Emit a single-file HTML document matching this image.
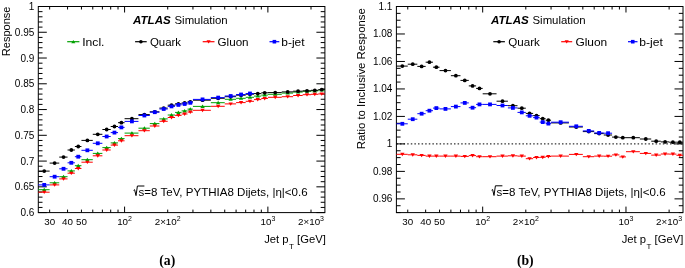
<!DOCTYPE html><html><head><meta charset="utf-8"><style>html,body{margin:0;padding:0;background:#fff;}svg{display:block;filter:blur(0.4px);}text{font-family:"Liberation Sans",sans-serif;}</style></head><body>
<svg width="685" height="268" viewBox="0 0 685 268">
<rect width="685" height="268" fill="#fff"/>
<rect x="38.30" y="6.50" width="286.60" height="206.10" fill="none" stroke="#000" stroke-width="1"/>
<path d="M124.58 212.60V206.60M124.58 6.50V12.50M267.88 212.60V206.60M267.88 6.50V12.50M49.65 212.60V209.60M49.65 6.50V9.50M67.55 212.60V209.60M67.55 6.50V9.50M81.44 212.60V209.60M81.44 6.50V9.50M92.78 212.60V209.60M92.78 6.50V9.50M102.38 212.60V209.60M102.38 6.50V9.50M110.69 212.60V209.60M110.69 6.50V9.50M118.02 212.60V209.60M118.02 6.50V9.50M167.71 212.60V209.60M167.71 6.50V9.50M192.95 212.60V209.60M192.95 6.50V9.50M210.85 212.60V209.60M210.85 6.50V9.50M224.74 212.60V209.60M224.74 6.50V9.50M236.08 212.60V209.60M236.08 6.50V9.50M245.68 212.60V209.60M245.68 6.50V9.50M253.99 212.60V209.60M253.99 6.50V9.50M261.32 212.60V209.60M261.32 6.50V9.50M311.01 212.60V209.60M311.01 6.50V9.50M38.30 6.50H46.80M324.90 6.50H316.40M38.30 32.26H46.80M324.90 32.26H316.40M38.30 58.02H46.80M324.90 58.02H316.40M38.30 83.79H46.80M324.90 83.79H316.40M38.30 109.55H46.80M324.90 109.55H316.40M38.30 135.31H46.80M324.90 135.31H316.40M38.30 161.08H46.80M324.90 161.08H316.40M38.30 186.84H46.80M324.90 186.84H316.40M38.30 212.60H46.80M324.90 212.60H316.40M38.30 207.45H42.50M324.90 207.45H320.70M38.30 202.29H42.50M324.90 202.29H320.70M38.30 197.14H42.50M324.90 197.14H320.70M38.30 191.99H42.50M324.90 191.99H320.70M38.30 181.69H42.50M324.90 181.69H320.70M38.30 176.53H42.50M324.90 176.53H320.70M38.30 171.38H42.50M324.90 171.38H320.70M38.30 166.23H42.50M324.90 166.23H320.70M38.30 155.92H42.50M324.90 155.92H320.70M38.30 150.77H42.50M324.90 150.77H320.70M38.30 145.62H42.50M324.90 145.62H320.70M38.30 140.46H42.50M324.90 140.46H320.70M38.30 130.16H42.50M324.90 130.16H320.70M38.30 125.01H42.50M324.90 125.01H320.70M38.30 119.85H42.50M324.90 119.85H320.70M38.30 114.70H42.50M324.90 114.70H320.70M38.30 104.40H42.50M324.90 104.40H320.70M38.30 99.25H42.50M324.90 99.25H320.70M38.30 94.09H42.50M324.90 94.09H320.70M38.30 88.94H42.50M324.90 88.94H320.70M38.30 78.64H42.50M324.90 78.64H320.70M38.30 73.48H42.50M324.90 73.48H320.70M38.30 68.33H42.50M324.90 68.33H320.70M38.30 63.18H42.50M324.90 63.18H320.70M38.30 52.87H42.50M324.90 52.87H320.70M38.30 47.72H42.50M324.90 47.72H320.70M38.30 42.57H42.50M324.90 42.57H320.70M38.30 37.42H42.50M324.90 37.42H320.70M38.30 27.11H42.50M324.90 27.11H320.70M38.30 21.96H42.50M324.90 21.96H320.70M38.30 16.81H42.50M324.90 16.81H320.70M38.30 11.65H42.50M324.90 11.65H320.70" stroke="#000" stroke-width="1" fill="none"/>
<text x="34.3" y="10.00" font-size="10" text-anchor="end">1</text>
<text x="34.3" y="35.76" font-size="10" text-anchor="end">0.95</text>
<text x="34.3" y="61.52" font-size="10" text-anchor="end">0.9</text>
<text x="34.3" y="87.29" font-size="10" text-anchor="end">0.85</text>
<text x="34.3" y="113.05" font-size="10" text-anchor="end">0.8</text>
<text x="34.3" y="138.81" font-size="10" text-anchor="end">0.75</text>
<text x="34.3" y="164.58" font-size="10" text-anchor="end">0.7</text>
<text x="34.3" y="190.34" font-size="10" text-anchor="end">0.65</text>
<text x="34.3" y="216.10" font-size="10" text-anchor="end">0.6</text>
<text x="49.65" y="225.4" font-size="9.8" text-anchor="middle">30</text>
<text x="67.55" y="225.4" font-size="9.8" text-anchor="middle">40</text>
<text x="81.44" y="225.4" font-size="9.8" text-anchor="middle">50</text>
<text x="124.58" y="225.4" font-size="9.8" text-anchor="middle">10<tspan dy="-4" font-size="7">2</tspan></text>
<text x="167.71" y="225.4" font-size="9.8" text-anchor="middle">2×10<tspan dy="-4" font-size="7">2</tspan></text>
<text x="267.88" y="225.4" font-size="9.8" text-anchor="middle">10<tspan dy="-4" font-size="7">3</tspan></text>
<text x="311.01" y="225.4" font-size="9.8" text-anchor="middle">2×10<tspan dy="-4" font-size="7">3</tspan></text>
<text transform="translate(9.7,6.6) rotate(-90)" font-size="11" text-anchor="end">Response</text>
<text x="325.80" y="242.6" font-size="11.25" text-anchor="end">Jet p<tspan dx="0.4" dy="6" font-size="8">T</tspan><tspan dy="-6"> [GeV]</tspan></text>
<text x="133" y="23.7" font-size="11.6" font-weight="bold" font-style="italic">ATLAS</text>
<text x="174.5" y="23.7" font-size="11.4">Simulation</text>
<path d="M67.2 41.7H79.4" stroke="#00a000" stroke-width="1.2"/>
<path d="M73.30 39.90L75.37 43.14L71.23 43.14Z" fill="#00a000"/>
<text x="82.2" y="45.5" font-size="11.2" textLength="22.3" lengthAdjust="spacingAndGlyphs">Incl.</text>
<path d="M135.1 41.7H146.7" stroke="#000" stroke-width="1.2"/>
<circle cx="140.90" cy="41.70" r="1.80" fill="#000"/>
<text x="149.9" y="45.5" font-size="11.2" textLength="31.2" lengthAdjust="spacingAndGlyphs">Quark</text>
<path d="M202.7 41.7H214.5" stroke="#ff0000" stroke-width="1.2"/>
<path d="M208.60 43.50L210.67 40.26L206.53 40.26Z" fill="#ff0000"/>
<text x="217.5" y="45.5" font-size="11.2" textLength="31.1" lengthAdjust="spacingAndGlyphs">Gluon</text>
<path d="M269.5 41.7H279.3" stroke="#0000ff" stroke-width="1.2"/>
<rect x="272.60" y="39.90" width="3.60" height="3.60" fill="#0000ff"/>
<text x="281.3" y="45.5" font-size="11.2" textLength="23.3" lengthAdjust="spacingAndGlyphs">b-jet</text>
<path d="M133.6 190.4L134.6 189.7L136.0 195.6L137.4 186.0H144.4" stroke="#000" stroke-width="1" fill="none" stroke-linejoin="miter"/>
<text x="138.6" y="195.6" font-size="11.4" textLength="169" lengthAdjust="spacingAndGlyphs">s=8 TeV, PYTHIA8 Dijets, |η|&lt;0.6</text>
<path d="M38.30 189.70H49.65M49.65 182.80H59.24M59.24 176.70H67.55M67.55 170.90H74.88M74.88 165.70H81.44M81.44 159.70H92.78M92.78 153.40H102.38M102.38 147.60H110.69M110.69 142.90H118.02M118.02 138.60H124.58M124.58 133.10H138.46M138.46 128.20H149.81M149.81 123.60H159.40M159.40 118.90H167.71M167.71 115.00H175.04M175.04 112.40H181.60M181.60 110.90H187.53M187.53 109.10H192.95M192.95 106.40H210.85M210.85 102.70H224.74M224.74 99.30H236.08M236.08 98.30H245.68M245.68 97.30H253.99M253.99 96.10H261.32M261.32 95.10H267.88M267.88 94.30H281.76M281.76 93.10H293.11M293.11 92.10H302.70M302.70 91.30H311.01M311.01 90.90H318.34M318.34 90.10H324.90" stroke="#00a000" stroke-width="1" fill="none"/>
<path d="M44.23 187.80L46.42 191.22L42.05 191.22Z" fill="#00a000"/>
<path d="M54.63 180.90L56.81 184.32L52.44 184.32Z" fill="#00a000"/>
<path d="M63.53 174.80L65.72 178.22L61.35 178.22Z" fill="#00a000"/>
<path d="M71.32 169.00L73.51 172.42L69.14 172.42Z" fill="#00a000"/>
<path d="M78.25 163.80L80.43 167.22L76.06 167.22Z" fill="#00a000"/>
<path d="M87.37 157.80L89.55 161.22L85.18 161.22Z" fill="#00a000"/>
<path d="M97.77 151.50L99.95 154.92L95.58 154.92Z" fill="#00a000"/>
<path d="M106.67 145.70L108.86 149.12L104.49 149.12Z" fill="#00a000"/>
<path d="M114.46 141.00L116.65 144.42L112.28 144.42Z" fill="#00a000"/>
<path d="M121.38 136.70L123.57 140.12L119.20 140.12Z" fill="#00a000"/>
<path d="M131.91 131.20L134.09 134.62L129.72 134.62Z" fill="#00a000"/>
<path d="M144.39 126.30L146.58 129.72L142.21 129.72Z" fill="#00a000"/>
<path d="M154.79 121.70L156.98 125.12L152.61 125.12Z" fill="#00a000"/>
<path d="M163.70 117.00L165.88 120.42L161.51 120.42Z" fill="#00a000"/>
<path d="M171.49 113.10L173.67 116.52L169.30 116.52Z" fill="#00a000"/>
<path d="M178.41 110.50L180.59 113.92L176.22 113.92Z" fill="#00a000"/>
<path d="M184.64 109.00L186.82 112.42L182.45 112.42Z" fill="#00a000"/>
<path d="M190.30 107.20L192.48 110.62L188.11 110.62Z" fill="#00a000"/>
<path d="M202.54 104.50L204.73 107.92L200.36 107.92Z" fill="#00a000"/>
<path d="M218.18 100.80L220.37 104.22L216.00 104.22Z" fill="#00a000"/>
<path d="M230.67 97.40L232.85 100.82L228.48 100.82Z" fill="#00a000"/>
<path d="M241.07 96.40L243.25 99.82L238.88 99.82Z" fill="#00a000"/>
<path d="M249.97 95.40L252.16 98.82L247.79 98.82Z" fill="#00a000"/>
<path d="M257.76 94.20L259.95 97.62L255.58 97.62Z" fill="#00a000"/>
<path d="M264.68 93.20L266.87 96.62L262.50 96.62Z" fill="#00a000"/>
<path d="M275.21 92.40L277.39 95.82L273.02 95.82Z" fill="#00a000"/>
<path d="M287.69 91.20L289.88 94.62L285.51 94.62Z" fill="#00a000"/>
<path d="M298.09 90.20L300.28 93.62L295.91 93.62Z" fill="#00a000"/>
<path d="M307.00 89.40L309.18 92.82L304.81 92.82Z" fill="#00a000"/>
<path d="M314.79 89.00L316.97 92.42L312.60 92.42Z" fill="#00a000"/>
<path d="M321.71 88.20L323.89 91.62L319.52 91.62Z" fill="#00a000"/>
<path d="M38.30 192.20H49.65M49.65 184.90H59.24M59.24 178.90H67.55M67.55 173.20H74.88M74.88 168.50H81.44M81.44 162.20H92.78M92.78 155.80H102.38M102.38 150.00H110.69M110.69 145.10H118.02M118.02 140.80H124.58M124.58 135.70H138.46M138.46 130.70H149.81M149.81 126.00H159.40M159.40 121.30H167.71M167.71 117.50H175.04M175.04 115.40H181.60M181.60 114.00H187.53M187.53 112.10H192.95M192.95 110.30H210.85M210.85 106.30H224.74M224.74 103.90H236.08M236.08 102.60H245.68M245.68 101.30H253.99M253.99 99.60H261.32M261.32 98.50H267.88M267.88 97.30H281.76M281.76 96.70H293.11M293.11 95.50H302.70M302.70 94.70H311.01M311.01 94.30H318.34M318.34 93.90H324.90" stroke="#ff0000" stroke-width="1" fill="none"/>
<path d="M44.23 194.10L46.42 190.68L42.05 190.68Z" fill="#ff0000"/>
<path d="M54.63 186.80L56.81 183.38L52.44 183.38Z" fill="#ff0000"/>
<path d="M63.53 180.80L65.72 177.38L61.35 177.38Z" fill="#ff0000"/>
<path d="M71.32 175.10L73.51 171.68L69.14 171.68Z" fill="#ff0000"/>
<path d="M78.25 170.40L80.43 166.98L76.06 166.98Z" fill="#ff0000"/>
<path d="M87.37 164.10L89.55 160.68L85.18 160.68Z" fill="#ff0000"/>
<path d="M97.77 157.70L99.95 154.28L95.58 154.28Z" fill="#ff0000"/>
<path d="M106.67 151.90L108.86 148.48L104.49 148.48Z" fill="#ff0000"/>
<path d="M114.46 147.00L116.65 143.58L112.28 143.58Z" fill="#ff0000"/>
<path d="M121.38 142.70L123.57 139.28L119.20 139.28Z" fill="#ff0000"/>
<path d="M131.91 137.60L134.09 134.18L129.72 134.18Z" fill="#ff0000"/>
<path d="M144.39 132.60L146.58 129.18L142.21 129.18Z" fill="#ff0000"/>
<path d="M154.79 127.90L156.98 124.48L152.61 124.48Z" fill="#ff0000"/>
<path d="M163.70 123.20L165.88 119.78L161.51 119.78Z" fill="#ff0000"/>
<path d="M171.49 119.40L173.67 115.98L169.30 115.98Z" fill="#ff0000"/>
<path d="M178.41 117.30L180.59 113.88L176.22 113.88Z" fill="#ff0000"/>
<path d="M184.64 115.90L186.82 112.48L182.45 112.48Z" fill="#ff0000"/>
<path d="M190.30 114.00L192.48 110.58L188.11 110.58Z" fill="#ff0000"/>
<path d="M202.54 112.20L204.73 108.78L200.36 108.78Z" fill="#ff0000"/>
<path d="M218.18 108.20L220.37 104.78L216.00 104.78Z" fill="#ff0000"/>
<path d="M230.67 105.80L232.85 102.38L228.48 102.38Z" fill="#ff0000"/>
<path d="M241.07 104.50L243.25 101.08L238.88 101.08Z" fill="#ff0000"/>
<path d="M249.97 103.20L252.16 99.78L247.79 99.78Z" fill="#ff0000"/>
<path d="M257.76 101.50L259.95 98.08L255.58 98.08Z" fill="#ff0000"/>
<path d="M264.68 100.40L266.87 96.98L262.50 96.98Z" fill="#ff0000"/>
<path d="M275.21 99.20L277.39 95.78L273.02 95.78Z" fill="#ff0000"/>
<path d="M287.69 98.60L289.88 95.18L285.51 95.18Z" fill="#ff0000"/>
<path d="M298.09 97.40L300.28 93.98L295.91 93.98Z" fill="#ff0000"/>
<path d="M307.00 96.60L309.18 93.18L304.81 93.18Z" fill="#ff0000"/>
<path d="M314.79 96.20L316.97 92.78L312.60 92.78Z" fill="#ff0000"/>
<path d="M321.71 95.80L323.89 92.38L319.52 92.38Z" fill="#ff0000"/>
<path d="M38.30 171.10H49.65M49.65 163.10H59.24M59.24 157.10H67.55M67.55 150.00H74.88M74.88 146.50H81.44M81.44 140.40H92.78M92.78 134.30H102.38M102.38 129.50H110.69M110.69 126.50H118.02M118.02 122.70H124.58M124.58 118.70H138.46M138.46 114.60H149.81M149.81 111.80H159.40M159.40 108.10H167.71M167.71 105.20H175.04M175.04 103.80H181.60M181.60 103.00H187.53M187.53 101.80H192.95M192.95 100.20H210.85M210.85 98.30H224.74M224.74 96.70H236.08M236.08 95.20H245.68M245.68 94.20H253.99M253.99 93.60H261.32M261.32 92.80H267.88M267.88 92.60H281.76M281.76 91.90H293.11M293.11 91.20H302.70M302.70 90.80H311.01M311.01 90.30H318.34M318.34 89.60H324.90" stroke="#000" stroke-width="1" fill="none"/>
<circle cx="44.23" cy="171.10" r="1.90" fill="#000"/>
<circle cx="54.63" cy="163.10" r="1.90" fill="#000"/>
<circle cx="63.53" cy="157.10" r="1.90" fill="#000"/>
<circle cx="71.32" cy="150.00" r="1.90" fill="#000"/>
<circle cx="78.25" cy="146.50" r="1.90" fill="#000"/>
<circle cx="87.37" cy="140.40" r="1.90" fill="#000"/>
<circle cx="97.77" cy="134.30" r="1.90" fill="#000"/>
<circle cx="106.67" cy="129.50" r="1.90" fill="#000"/>
<circle cx="114.46" cy="126.50" r="1.90" fill="#000"/>
<circle cx="121.38" cy="122.70" r="1.90" fill="#000"/>
<circle cx="131.91" cy="118.70" r="1.90" fill="#000"/>
<circle cx="144.39" cy="114.60" r="1.90" fill="#000"/>
<circle cx="154.79" cy="111.80" r="1.90" fill="#000"/>
<circle cx="163.70" cy="108.10" r="1.90" fill="#000"/>
<circle cx="171.49" cy="105.20" r="1.90" fill="#000"/>
<circle cx="178.41" cy="103.80" r="1.90" fill="#000"/>
<circle cx="184.64" cy="103.00" r="1.90" fill="#000"/>
<circle cx="190.30" cy="101.80" r="1.90" fill="#000"/>
<circle cx="202.54" cy="100.20" r="1.90" fill="#000"/>
<circle cx="218.18" cy="98.30" r="1.90" fill="#000"/>
<circle cx="230.67" cy="96.70" r="1.90" fill="#000"/>
<circle cx="241.07" cy="95.20" r="1.90" fill="#000"/>
<circle cx="249.97" cy="94.20" r="1.90" fill="#000"/>
<circle cx="257.76" cy="93.60" r="1.90" fill="#000"/>
<circle cx="264.68" cy="92.80" r="1.90" fill="#000"/>
<circle cx="275.21" cy="92.60" r="1.90" fill="#000"/>
<circle cx="287.69" cy="91.90" r="1.90" fill="#000"/>
<circle cx="298.09" cy="91.20" r="1.90" fill="#000"/>
<circle cx="307.00" cy="90.80" r="1.90" fill="#000"/>
<circle cx="314.79" cy="90.30" r="1.90" fill="#000"/>
<circle cx="321.71" cy="89.60" r="1.90" fill="#000"/>
<path d="M38.30 184.90H49.65M49.65 176.70H59.24M59.24 168.80H67.55M67.55 162.80H74.88M74.88 156.70H81.44M81.44 150.30H92.78M92.78 143.30H102.38M102.38 136.50H110.69M110.69 132.60H118.02M118.02 127.40H124.58M124.58 121.40H138.46M138.46 115.50H149.81M149.81 112.20H159.40M159.40 109.00H167.71M167.71 106.40H175.04M175.04 104.90H181.60M181.60 104.00H187.53M187.53 102.80H192.95M192.95 99.40H210.85M210.85 97.60H224.74M224.74 96.00H236.08M236.08 94.50H245.68M245.68 93.50H253.99" stroke="#0000ff" stroke-width="1" fill="none"/>
<rect x="42.33" y="183.00" width="3.80" height="3.80" fill="#0000ff"/>
<rect x="52.73" y="174.80" width="3.80" height="3.80" fill="#0000ff"/>
<rect x="61.63" y="166.90" width="3.80" height="3.80" fill="#0000ff"/>
<rect x="69.42" y="160.90" width="3.80" height="3.80" fill="#0000ff"/>
<rect x="76.35" y="154.80" width="3.80" height="3.80" fill="#0000ff"/>
<rect x="85.47" y="148.40" width="3.80" height="3.80" fill="#0000ff"/>
<rect x="95.87" y="141.40" width="3.80" height="3.80" fill="#0000ff"/>
<rect x="104.77" y="134.60" width="3.80" height="3.80" fill="#0000ff"/>
<rect x="112.56" y="130.70" width="3.80" height="3.80" fill="#0000ff"/>
<rect x="119.48" y="125.50" width="3.80" height="3.80" fill="#0000ff"/>
<rect x="130.01" y="119.50" width="3.80" height="3.80" fill="#0000ff"/>
<rect x="142.49" y="113.60" width="3.80" height="3.80" fill="#0000ff"/>
<rect x="152.89" y="110.30" width="3.80" height="3.80" fill="#0000ff"/>
<rect x="161.80" y="107.10" width="3.80" height="3.80" fill="#0000ff"/>
<rect x="169.59" y="104.50" width="3.80" height="3.80" fill="#0000ff"/>
<rect x="176.51" y="103.00" width="3.80" height="3.80" fill="#0000ff"/>
<rect x="182.74" y="102.10" width="3.80" height="3.80" fill="#0000ff"/>
<rect x="188.40" y="100.90" width="3.80" height="3.80" fill="#0000ff"/>
<rect x="200.64" y="97.50" width="3.80" height="3.80" fill="#0000ff"/>
<rect x="216.28" y="95.70" width="3.80" height="3.80" fill="#0000ff"/>
<rect x="228.77" y="94.10" width="3.80" height="3.80" fill="#0000ff"/>
<rect x="239.17" y="92.60" width="3.80" height="3.80" fill="#0000ff"/>
<rect x="248.07" y="91.60" width="3.80" height="3.80" fill="#0000ff"/>
<text x="167.3" y="264.6" font-size="13.7" font-weight="bold" text-anchor="middle" style="font-family:'Liberation Serif',serif">(a)</text>
<rect x="396.40" y="6.50" width="286.60" height="206.10" fill="none" stroke="#000" stroke-width="1"/>
<path d="M482.68 212.60V206.60M482.68 6.50V12.50M625.98 212.60V206.60M625.98 6.50V12.50M407.75 212.60V209.60M407.75 6.50V9.50M425.65 212.60V209.60M425.65 6.50V9.50M439.54 212.60V209.60M439.54 6.50V9.50M450.88 212.60V209.60M450.88 6.50V9.50M460.48 212.60V209.60M460.48 6.50V9.50M468.79 212.60V209.60M468.79 6.50V9.50M476.12 212.60V209.60M476.12 6.50V9.50M525.81 212.60V209.60M525.81 6.50V9.50M551.05 212.60V209.60M551.05 6.50V9.50M568.95 212.60V209.60M568.95 6.50V9.50M582.84 212.60V209.60M582.84 6.50V9.50M594.18 212.60V209.60M594.18 6.50V9.50M603.78 212.60V209.60M603.78 6.50V9.50M612.09 212.60V209.60M612.09 6.50V9.50M619.42 212.60V209.60M619.42 6.50V9.50M669.11 212.60V209.60M669.11 6.50V9.50M396.40 6.50H404.90M683.00 6.50H674.50M396.40 33.98H404.90M683.00 33.98H674.50M396.40 61.46H404.90M683.00 61.46H674.50M396.40 88.94H404.90M683.00 88.94H674.50M396.40 116.42H404.90M683.00 116.42H674.50M396.40 143.90H404.90M683.00 143.90H674.50M396.40 171.38H404.90M683.00 171.38H674.50M396.40 198.86H404.90M683.00 198.86H674.50M396.40 212.60H400.60M683.00 212.60H678.80M396.40 205.73H400.60M683.00 205.73H678.80M396.40 191.99H400.60M683.00 191.99H678.80M396.40 185.12H400.60M683.00 185.12H678.80M396.40 178.25H400.60M683.00 178.25H678.80M396.40 164.51H400.60M683.00 164.51H678.80M396.40 157.64H400.60M683.00 157.64H678.80M396.40 150.77H400.60M683.00 150.77H678.80M396.40 137.03H400.60M683.00 137.03H678.80M396.40 130.16H400.60M683.00 130.16H678.80M396.40 123.29H400.60M683.00 123.29H678.80M396.40 109.55H400.60M683.00 109.55H678.80M396.40 102.68H400.60M683.00 102.68H678.80M396.40 95.81H400.60M683.00 95.81H678.80M396.40 82.07H400.60M683.00 82.07H678.80M396.40 75.20H400.60M683.00 75.20H678.80M396.40 68.33H400.60M683.00 68.33H678.80M396.40 54.59H400.60M683.00 54.59H678.80M396.40 47.72H400.60M683.00 47.72H678.80M396.40 40.85H400.60M683.00 40.85H678.80M396.40 27.11H400.60M683.00 27.11H678.80M396.40 20.24H400.60M683.00 20.24H678.80M396.40 13.37H400.60M683.00 13.37H678.80" stroke="#000" stroke-width="1" fill="none"/>
<text x="392.4" y="10.00" font-size="10" text-anchor="end">1.1</text>
<text x="392.4" y="37.48" font-size="10" text-anchor="end">1.08</text>
<text x="392.4" y="64.96" font-size="10" text-anchor="end">1.06</text>
<text x="392.4" y="92.44" font-size="10" text-anchor="end">1.04</text>
<text x="392.4" y="119.92" font-size="10" text-anchor="end">1.02</text>
<text x="392.4" y="147.40" font-size="10" text-anchor="end">1</text>
<text x="392.4" y="174.88" font-size="10" text-anchor="end">0.98</text>
<text x="392.4" y="202.36" font-size="10" text-anchor="end">0.96</text>
<text x="407.75" y="225.4" font-size="9.8" text-anchor="middle">30</text>
<text x="425.65" y="225.4" font-size="9.8" text-anchor="middle">40</text>
<text x="439.54" y="225.4" font-size="9.8" text-anchor="middle">50</text>
<text x="482.68" y="225.4" font-size="9.8" text-anchor="middle">10<tspan dy="-4" font-size="7">2</tspan></text>
<text x="525.81" y="225.4" font-size="9.8" text-anchor="middle">2×10<tspan dy="-4" font-size="7">2</tspan></text>
<text x="625.98" y="225.4" font-size="9.8" text-anchor="middle">10<tspan dy="-4" font-size="7">3</tspan></text>
<text x="669.11" y="225.4" font-size="9.8" text-anchor="middle">2×10<tspan dy="-4" font-size="7">3</tspan></text>
<text transform="translate(365.2,8.1) rotate(-90)" font-size="11.4" text-anchor="end">Ratio to Inclusive Response</text>
<text x="683.30" y="242.6" font-size="11.25" text-anchor="end">Jet p<tspan dx="0.4" dy="6" font-size="8">T</tspan><tspan dy="-6"> [GeV]</tspan></text>
<text x="491" y="23.7" font-size="11.6" font-weight="bold" font-style="italic">ATLAS</text>
<text x="532.5" y="23.7" font-size="11.4">Simulation</text>
<path d="M493.3 41.7H504.9" stroke="#000" stroke-width="1.2"/>
<circle cx="499.10" cy="41.70" r="1.80" fill="#000"/>
<text x="508.2" y="45.5" font-size="11.2" textLength="31.7" lengthAdjust="spacingAndGlyphs">Quark</text>
<path d="M561.2 41.7H572.2" stroke="#ff0000" stroke-width="1.2"/>
<path d="M566.70 43.50L568.77 40.26L564.63 40.26Z" fill="#ff0000"/>
<text x="575.4" y="45.5" font-size="11.2" textLength="31.8" lengthAdjust="spacingAndGlyphs">Gluon</text>
<path d="M628 41.7H637.5" stroke="#0000ff" stroke-width="1.2"/>
<rect x="630.95" y="39.90" width="3.60" height="3.60" fill="#0000ff"/>
<text x="639.2" y="45.5" font-size="11.2" textLength="23.6" lengthAdjust="spacingAndGlyphs">b-jet</text>
<path d="M491.6 190.2L492.6 189.5L494.0 195.5L495.4 185.8H502.4" stroke="#000" stroke-width="1" fill="none" stroke-linejoin="miter"/>
<text x="496.6" y="195.5" font-size="11.4" textLength="169" lengthAdjust="spacingAndGlyphs">s=8 TeV, PYTHIA8 Dijets, |η|&lt;0.6</text>
<path d="M396.40 143.90H683.00" stroke="#000" stroke-width="1" stroke-dasharray="1.5 2.1"/>
<path d="M396.40 154.30H407.75M407.75 154.80H417.34M417.34 155.40H425.65M425.65 156.10H432.98M432.98 156.10H439.54M439.54 156.10H450.88M450.88 156.10H460.48M460.48 156.40H468.79M468.79 155.60H476.12M476.12 156.70H482.68M482.68 156.70H496.56M496.56 156.10H507.91M507.91 155.80H517.50M517.50 156.10H525.81M525.81 158.70H533.14M533.14 157.50H539.70M539.70 157.30H545.63M545.63 156.50H551.05M551.05 156.10H568.95M568.95 154.40H582.84M582.84 156.70H594.18M594.18 156.10H603.78M603.78 156.20H612.09M612.09 154.90H619.42M619.42 156.90H625.98M625.98 151.70H639.86M639.86 153.40H651.21M651.21 155.10H660.80M660.80 154.00H669.11M669.11 154.10H676.44M676.44 155.30H683.00" stroke="#ff0000" stroke-width="1" fill="none"/>
<path d="M402.33 156.20L404.52 152.78L400.15 152.78Z" fill="#ff0000"/>
<path d="M412.73 156.70L414.91 153.28L410.54 153.28Z" fill="#ff0000"/>
<path d="M421.63 157.30L423.82 153.88L419.45 153.88Z" fill="#ff0000"/>
<path d="M429.42 158.00L431.61 154.58L427.24 154.58Z" fill="#ff0000"/>
<path d="M436.35 158.00L438.53 154.58L434.16 154.58Z" fill="#ff0000"/>
<path d="M445.47 158.00L447.65 154.58L443.28 154.58Z" fill="#ff0000"/>
<path d="M455.87 158.00L458.05 154.58L453.68 154.58Z" fill="#ff0000"/>
<path d="M464.77 158.30L466.96 154.88L462.59 154.88Z" fill="#ff0000"/>
<path d="M472.56 157.50L474.75 154.08L470.38 154.08Z" fill="#ff0000"/>
<path d="M479.48 158.60L481.67 155.18L477.30 155.18Z" fill="#ff0000"/>
<path d="M490.01 158.60L492.19 155.18L487.82 155.18Z" fill="#ff0000"/>
<path d="M502.49 158.00L504.68 154.58L500.31 154.58Z" fill="#ff0000"/>
<path d="M512.89 157.70L515.08 154.28L510.71 154.28Z" fill="#ff0000"/>
<path d="M521.80 158.00L523.98 154.58L519.61 154.58Z" fill="#ff0000"/>
<path d="M529.59 160.60L531.77 157.18L527.40 157.18Z" fill="#ff0000"/>
<path d="M536.51 159.40L538.69 155.98L534.32 155.98Z" fill="#ff0000"/>
<path d="M542.74 159.20L544.92 155.78L540.55 155.78Z" fill="#ff0000"/>
<path d="M548.40 158.40L550.58 154.98L546.21 154.98Z" fill="#ff0000"/>
<path d="M560.64 158.00L562.83 154.58L558.46 154.58Z" fill="#ff0000"/>
<path d="M576.28 156.30L578.47 152.88L574.10 152.88Z" fill="#ff0000"/>
<path d="M588.77 158.60L590.95 155.18L586.58 155.18Z" fill="#ff0000"/>
<path d="M599.17 158.00L601.35 154.58L596.98 154.58Z" fill="#ff0000"/>
<path d="M608.07 158.10L610.26 154.68L605.89 154.68Z" fill="#ff0000"/>
<path d="M615.86 156.80L618.05 153.38L613.68 153.38Z" fill="#ff0000"/>
<path d="M622.78 158.80L624.97 155.38L620.60 155.38Z" fill="#ff0000"/>
<path d="M633.31 153.60L635.49 150.18L631.12 150.18Z" fill="#ff0000"/>
<path d="M645.79 155.30L647.98 151.88L643.61 151.88Z" fill="#ff0000"/>
<path d="M656.19 157.00L658.38 153.58L654.01 153.58Z" fill="#ff0000"/>
<path d="M665.10 155.90L667.28 152.48L662.91 152.48Z" fill="#ff0000"/>
<path d="M672.89 156.00L675.07 152.58L670.70 152.58Z" fill="#ff0000"/>
<path d="M679.81 157.20L681.99 153.78L677.62 153.78Z" fill="#ff0000"/>
<path d="M396.40 66.10H407.75M407.75 64.20H417.34M417.34 66.40H425.65M425.65 62.20H432.98M432.98 67.20H439.54M439.54 70.60H450.88M450.88 75.70H460.48M460.48 80.40H468.79M468.79 85.90H476.12M476.12 88.40H482.68M482.68 93.80H496.56M496.56 101.20H507.91M507.91 105.70H517.50M517.50 108.20H525.81M525.81 113.40H533.14M533.14 115.60H539.70M539.70 118.70H545.63M545.63 120.20H551.05M551.05 122.90H568.95M568.95 127.00H582.84M582.84 131.60H594.18M594.18 133.60H603.78M603.78 135.00H612.09M612.09 137.10H619.42M619.42 137.70H625.98M625.98 137.70H639.86M639.86 139.00H651.21M651.21 141.20H660.80M660.80 141.90H669.11M669.11 142.20H676.44M676.44 142.20H683.00" stroke="#000" stroke-width="1" fill="none"/>
<circle cx="402.33" cy="66.10" r="1.90" fill="#000"/>
<circle cx="412.73" cy="64.20" r="1.90" fill="#000"/>
<circle cx="421.63" cy="66.40" r="1.90" fill="#000"/>
<circle cx="429.42" cy="62.20" r="1.90" fill="#000"/>
<circle cx="436.35" cy="67.20" r="1.90" fill="#000"/>
<circle cx="445.47" cy="70.60" r="1.90" fill="#000"/>
<circle cx="455.87" cy="75.70" r="1.90" fill="#000"/>
<circle cx="464.77" cy="80.40" r="1.90" fill="#000"/>
<circle cx="472.56" cy="85.90" r="1.90" fill="#000"/>
<circle cx="479.48" cy="88.40" r="1.90" fill="#000"/>
<circle cx="490.01" cy="93.80" r="1.90" fill="#000"/>
<circle cx="502.49" cy="101.20" r="1.90" fill="#000"/>
<circle cx="512.89" cy="105.70" r="1.90" fill="#000"/>
<circle cx="521.80" cy="108.20" r="1.90" fill="#000"/>
<circle cx="529.59" cy="113.40" r="1.90" fill="#000"/>
<circle cx="536.51" cy="115.60" r="1.90" fill="#000"/>
<circle cx="542.74" cy="118.70" r="1.90" fill="#000"/>
<circle cx="548.40" cy="120.20" r="1.90" fill="#000"/>
<circle cx="560.64" cy="122.90" r="1.90" fill="#000"/>
<circle cx="576.28" cy="127.00" r="1.90" fill="#000"/>
<circle cx="588.77" cy="131.60" r="1.90" fill="#000"/>
<circle cx="599.17" cy="133.60" r="1.90" fill="#000"/>
<circle cx="608.07" cy="135.00" r="1.90" fill="#000"/>
<circle cx="615.86" cy="137.10" r="1.90" fill="#000"/>
<circle cx="622.78" cy="137.70" r="1.90" fill="#000"/>
<circle cx="633.31" cy="137.70" r="1.90" fill="#000"/>
<circle cx="645.79" cy="139.00" r="1.90" fill="#000"/>
<circle cx="656.19" cy="141.20" r="1.90" fill="#000"/>
<circle cx="665.10" cy="141.90" r="1.90" fill="#000"/>
<circle cx="672.89" cy="142.20" r="1.90" fill="#000"/>
<circle cx="679.81" cy="142.20" r="1.90" fill="#000"/>
<path d="M396.40 123.80H407.75M407.75 119.20H417.34M417.34 113.70H425.65M425.65 110.70H432.98M432.98 108.10H439.54M439.54 108.90H450.88M450.88 106.60H460.48M460.48 102.90H468.79M468.79 107.70H476.12M476.12 104.40H482.68M482.68 104.40H496.56M496.56 105.50H507.91M507.91 107.90H517.50M517.50 112.40H525.81M525.81 115.80H533.14M533.14 117.60H539.70M539.70 122.10H545.63M545.63 123.60H551.05M551.05 122.20H568.95M568.95 126.30H582.84M582.84 130.90H594.18M594.18 132.90H603.78M603.78 133.20H612.09" stroke="#0000ff" stroke-width="1" fill="none"/>
<rect x="400.43" y="121.90" width="3.80" height="3.80" fill="#0000ff"/>
<rect x="410.83" y="117.30" width="3.80" height="3.80" fill="#0000ff"/>
<rect x="419.73" y="111.80" width="3.80" height="3.80" fill="#0000ff"/>
<rect x="427.52" y="108.80" width="3.80" height="3.80" fill="#0000ff"/>
<rect x="434.45" y="106.20" width="3.80" height="3.80" fill="#0000ff"/>
<rect x="443.57" y="107.00" width="3.80" height="3.80" fill="#0000ff"/>
<rect x="453.97" y="104.70" width="3.80" height="3.80" fill="#0000ff"/>
<rect x="462.87" y="101.00" width="3.80" height="3.80" fill="#0000ff"/>
<rect x="470.66" y="105.80" width="3.80" height="3.80" fill="#0000ff"/>
<rect x="477.58" y="102.50" width="3.80" height="3.80" fill="#0000ff"/>
<rect x="488.11" y="102.50" width="3.80" height="3.80" fill="#0000ff"/>
<rect x="500.59" y="103.60" width="3.80" height="3.80" fill="#0000ff"/>
<rect x="510.99" y="106.00" width="3.80" height="3.80" fill="#0000ff"/>
<rect x="519.90" y="110.50" width="3.80" height="3.80" fill="#0000ff"/>
<rect x="527.69" y="113.90" width="3.80" height="3.80" fill="#0000ff"/>
<rect x="534.61" y="115.70" width="3.80" height="3.80" fill="#0000ff"/>
<rect x="540.84" y="120.20" width="3.80" height="3.80" fill="#0000ff"/>
<rect x="546.50" y="121.70" width="3.80" height="3.80" fill="#0000ff"/>
<rect x="558.74" y="120.30" width="3.80" height="3.80" fill="#0000ff"/>
<rect x="574.38" y="124.40" width="3.80" height="3.80" fill="#0000ff"/>
<rect x="586.87" y="129.00" width="3.80" height="3.80" fill="#0000ff"/>
<rect x="597.27" y="131.00" width="3.80" height="3.80" fill="#0000ff"/>
<rect x="606.17" y="131.30" width="3.80" height="3.80" fill="#0000ff"/>
<text x="525.3" y="264.6" font-size="13.7" font-weight="bold" text-anchor="middle" style="font-family:'Liberation Serif',serif">(b)</text>
</svg></body></html>
